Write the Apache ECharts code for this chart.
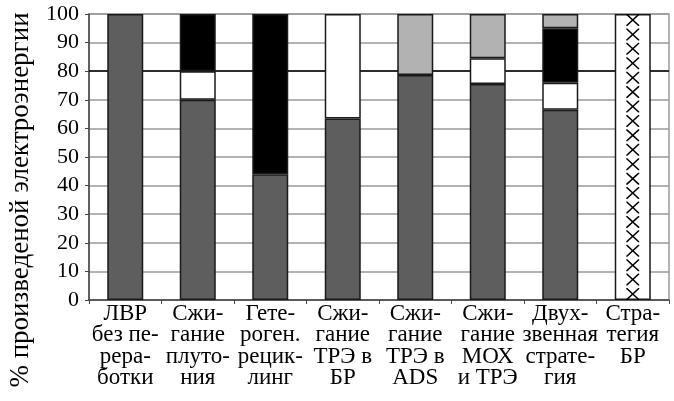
<!DOCTYPE html>
<html>
<head>
<meta charset="utf-8">
<script src="https://cdn.jsdelivr.net/npm/echarts@6/dist/echarts.min.js"></script>
<style>html,body{margin:0;padding:0;background:#fff}#c{width:674px;height:401px}</style>
</head>
<body>
<div id="c"></div>
<script>
var categories = ['ЛВР\nбез пе-\nрера-\nботки', 'Сжи-\nгание\nплуто-\nния', 'Гете-\nроген.\nрецик-\nлинг', 'Сжи-\nгание\nТРЭ в\nБР', 'Сжи-\nгание\nТРЭ в\nADS', 'Сжи-\nгание\nМОХ\nи ТРЭ', 'Двух-\nзвенная\nстрате-\nгия', 'Стра-\nтегия\nБР'];
var darkValues  = [100, 70, 44, 63.5, 78.7, 75.5, 66.5, null];
var whiteValues = [null, 10, null, 36.5, null, 9, 9.5, 100];
var blackValues = [null, 20, 56, null, null, null, 19, null];
var lightValues = [null, null, null, null, 21.3, 15.5, 5, null];
var hatchValues = [null, null, null, null, null, null, null, 100];
var yTicks = [0, 10, 20, 30, 40, 50, 60, 70, 80, 90, 100];
var yAxisTitle = '% произведеной электроэнергии';

var font = '"Liberation Serif", "DejaVu Serif", "Times New Roman", serif';
var border = {borderColor: '#1a1a1a', borderWidth: 1.5};
function barSeries(name, data, color) {
  return {
    name: name, type: 'bar', stack: 'total', data: data, barWidth: 36,
    itemStyle: Object.assign({color: color}, border),
    emphasis: {disabled: true}
  };
}
// thin filled X glyph
var crossPath = 'path://M0,0L0.85,0L5,4.15L9.15,0L10,0L10,0.85L5.85,5L10,9.15L10,10L9.15,10L5,5.85L0.85,10L0,10L0,9.15L4.15,5L0,0.85Z';
var chart = echarts.init(document.getElementById('c'));
var series = [
  barSeries('A', darkValues, '#5e5e5e'),
  barSeries('B', whiteValues, '#ffffff'),
  barSeries('C', blackValues, '#000000'),
  barSeries('D', lightValues, '#b2b2b2'),
  {
    name: 'E', type: 'pictorialBar', data: hatchValues,
    symbol: crossPath,
    symbolSize: [13, 12], symbolRepeat: true, symbolMargin: 1.6,
    symbolClip: false, z: 5,
    itemStyle: {color: '#000'},
    emphasis: {disabled: true}
  }
];
series[0].markLine = {
  silent: true, symbol: 'none', label: {show: false},
  lineStyle: {color: '#000', width: 1.5, type: 'solid'},
  data: [{yAxis: 80}], z: 1
};
chart.setOption({
  animation: false,
  backgroundColor: '#fff',
  grid: {left: 89, right: 5, top: 14, bottom: 101, show: true, borderColor: '#9a9a9a', borderWidth: 1.5, backgroundColor: 'transparent'},
  xAxis: {
    type: 'category', data: categories,
    axisLine: {lineStyle: {color: '#444', width: 1.5}},
    axisTick: {show: true, length: 4, lineStyle: {color: '#444'}},
    axisLabel: {interval: 0, color: '#000', fontFamily: font, fontSize: 23, lineHeight: 21.5, margin: 3}
  },
  yAxis: {
    type: 'value', min: yTicks[0], max: yTicks[yTicks.length - 1], interval: 10,
    axisLine: {show: true, lineStyle: {color: '#444', width: 1.5}},
    axisTick: {show: true, length: 4, lineStyle: {color: '#444'}},
    axisLabel: {color: '#000', fontFamily: font, fontSize: 22, margin: 10},
    splitLine: {show: true, lineStyle: {color: '#9a9a9a', width: 1.5}}
  },
  graphic: [{
    type: 'text', x: 21, y: 200, rotation: Math.PI / 2,
    style: {text: yAxisTitle, fontFamily: font, fontSize: 27, fill: '#000', textAlign: 'center', textVerticalAlign: 'middle'}
  }],
  series: series
});
</script>
</body>
</html>
